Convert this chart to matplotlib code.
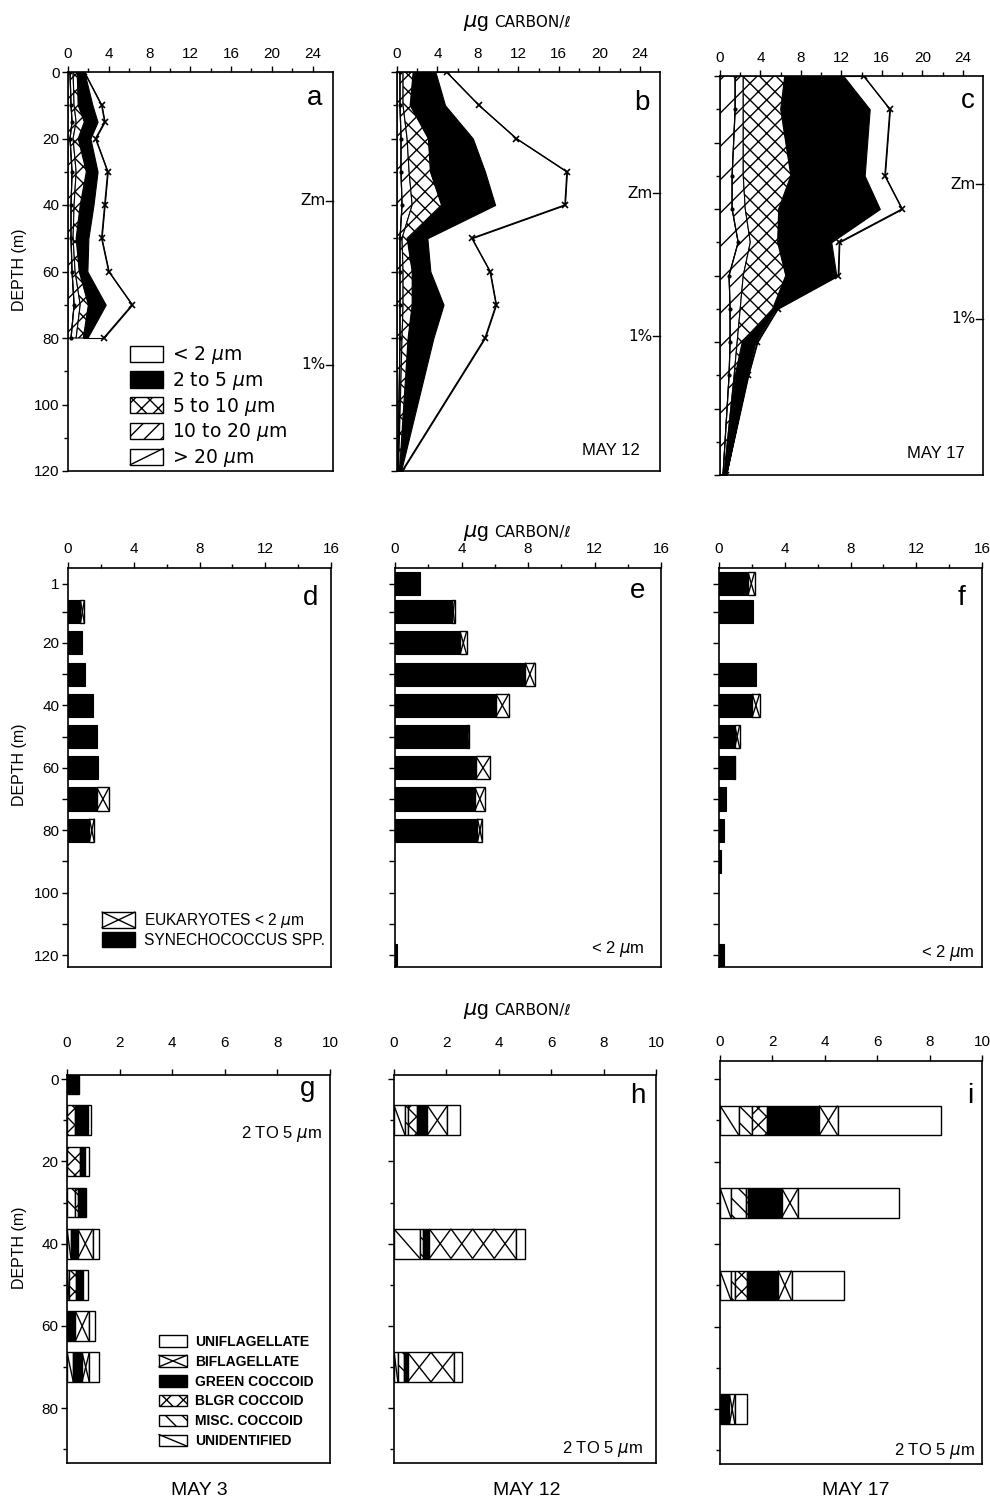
import matplotlib
matplotlib.use('Agg')
import matplotlib.pyplot as plt
from matplotlib.patches import Patch, Rectangle
from matplotlib.lines import Line2D
from matplotlib.legend_handler import HandlerBase
import numpy as np

plt.rcParams['font.family'] = ['Liberation Sans', 'DejaVu Sans']
plt.rcParams['mathtext.fontset'] = 'dejavusans'
plt.rcParams['hatch.linewidth'] = 1.0

# ---------------- data: size-fractionated carbon (top row) ----------------
size_labels = [r'< 2 $\mu$m', r'2 to 5 $\mu$m', r'5 to 10 $\mu$m', r'10 to 20 $\mu$m', r'> 20 $\mu$m']

a_depth = [0, 10, 15, 20, 30, 40, 50, 60, 70, 80]
a_gt20 = [0.2, 0.3, 0.4, 0.2, 0.4, 0.3, 0.3, 0.4, 0.6, 0.3]
a_10_20 = [0.3, 0.3, 0.4, 0.3, 0.4, 0.3, 0.2, 0.3, 0.6, 0.5]
a_5_10 = [0.4, 0.4, 0.8, 0.5, 1.0, 0.6, 0.3, 0.4, 0.8, 0.7]
a_2_5 = [0.7, 1.4, 1.3, 1.2, 1.1, 1.3, 1.2, 0.8, 1.7, 0.4]
a_lt2 = [0.0, 0.9, 0.7, 0.5, 1.0, 1.1, 1.3, 2.1, 2.6, 1.6]

b_depth = [0, 10, 20, 30, 40, 50, 60, 70, 80, 120]
b_gt20 = [0.3, 0.3, 0.4, 0.4, 0.5, 0.3, 0.3, 0.3, 0.3, 0.1]
b_10_20 = [0.3, 0.3, 0.6, 0.8, 1.0, 0.2, 0.3, 0.3, 0.2, 0.05]
b_5_10 = [1.0, 0.7, 2.1, 2.1, 2.9, 0.5, 0.9, 0.9, 0.6, 0.1]
b_2_5 = [2.2, 3.45, 4.4, 5.4, 5.3, 2.0, 1.8, 3.1, 2.5, 0.15]
b_lt2 = [1.1, 3.35, 4.3, 8.1, 6.9, 4.4, 5.9, 5.2, 5.1, 0.1]

c_depth = [0, 10, 30, 40, 50, 60, 70, 80, 90, 120]
c_gt20 = [1.5, 1.5, 1.2, 1.2, 1.8, 0.9, 1.0, 1.0, 0.9, 0.3]
c_10_20 = [0.8, 0.8, 1.1, 1.3, 1.2, 1.4, 1.0, 0.7, 0.5, 0.1]
c_5_10 = [4.1, 3.7, 4.7, 3.3, 2.7, 4.2, 3.2, 0.5, 0.1, 0.1]
c_2_5 = [5.8, 8.8, 7.3, 10.0, 5.3, 5.0, 0.3, 1.3, 1.2, 0.1]
c_lt2 = [2.0, 2.0, 2.0, 2.2, 0.8, 0.2, 0.2, 0.2, 0.1, 0.0]

zm_depth = [38.7, 36.5, 32.5]
one_pct_depth = [88, 79.5, 73]

# ---------------- data: < 2 um fraction (middle row) ----------------
pico_labels = [r'EUKARYOTES < 2 $\mu$m', 'SYNECHOCOCCUS SPP.']
d_depth = [10, 20, 30, 40, 50, 60, 70, 80]
d_syn = [0.75, 0.85, 1.05, 1.55, 1.75, 1.85, 1.75, 1.3]
d_euk = [0.25, 0, 0, 0, 0, 0, 0.75, 0.3]
e_depth = [1, 10, 20, 30, 40, 50, 60, 70, 80, 120]
e_syn = [1.52, 3.44, 3.91, 7.83, 6.07, 4.31, 4.86, 4.80, 4.96, 0.15]
e_euk = [0, 0.14, 0.40, 0.57, 0.77, 0.14, 0.87, 0.60, 0.30, 0]
f_depth = [1, 10, 30, 40, 50, 60, 70, 80, 90, 120]
f_syn = [1.76, 2.06, 2.27, 2.02, 0.95, 0.90, 0.45, 0.30, 0.12, 0.28]
f_euk = [0.41, 0, 0, 0.45, 0.31, 0.05, 0, 0, 0, 0]

# ---------------- data: 2-5 um fraction (bottom row) ----------------
# stacking order left to right: unidentified, misc, blgr, green, biflag, uniflag
taxa_labels = ['UNIFLAGELLATE', 'BIFLAGELLATE', 'GREEN COCCOID', 'BLGR COCCOID', 'MISC. COCCOID', 'UNIDENTIFIED']
g_depth = [0, 10, 20, 30, 40, 50, 60, 70]
g_unid = [0, 0, 0, 0, 0.15, 0.08, 0, 0.24]
g_misc = [0, 0, 0, 0.30, 0, 0, 0, 0]
g_blgr = [0, 0.32, 0.50, 0.10, 0, 0.27, 0, 0]
g_green = [0.47, 0.43, 0.20, 0.32, 0.26, 0.25, 0.32, 0.33]
g_bi = [0, 0.05, 0, 0, 0.57, 0, 0.51, 0.28]
g_uni = [0, 0.12, 0.13, 0, 0.25, 0.20, 0.25, 0.35]

h_depth = [10, 40, 70]
h_unid = [0.42, 0.99, 0.15]
h_misc = [0.13, 0.13, 0.25]
h_blgr = [0.32, 0, 0]
h_green = [0.40, 0.23, 0.12]
h_bi = [0.77, 3.30, 1.78]
h_uni = [0.48, 0.35, 0.28]

i_depth = [10, 30, 50, 80]
i_unid = [0.72, 0.42, 0.42, 0]
i_misc = [0.49, 0.58, 0.15, 0]
i_blgr = [0.59, 0.05, 0.47, 0]
i_green = [1.99, 1.30, 1.18, 0.36]
i_bi = [0.70, 0.64, 0.51, 0.21]
i_uni = [3.96, 3.85, 2.01, 0.45]

# ---------------- figure ----------------
W, H = 990, 1500
fig = plt.figure(figsize=(W / 100, H / 100), dpi=100)
fig.patch.set_facecolor('white')


def rect(x0, y0, x1, y1):
    return [x0 / W, 1 - y1 / H, (x1 - x0) / W, (y1 - y0) / H]


def ftext(x, y, s, **kw):
    fig.text(x / W, 1 - y / H, s, **kw)


def style_axis(ax, xmax, xmajor, xminor, ylim, ymajor, ylabels, yminor=None,
               ylab=True, xpad=3):
    ax.set_xlim(0, xmax)
    ax.set_ylim(*ylim)
    ax.xaxis.tick_top()
    ax.set_xticks(xmajor)
    ax.set_xticklabels([str(v) for v in xmajor])
    if xminor is not None:
        ax.set_xticks(xminor, minor=True)
    ax.set_yticks(ymajor)
    ax.set_yticklabels(ylabels if ylab else [''] * len(ymajor))
    if yminor is not None:
        ax.set_yticks(yminor, minor=True)
    ax.tick_params(axis='both', which='major', direction='out', length=4, width=1,
                   labelsize=11, pad=2, colors='black')
    ax.tick_params(axis='x', which='major', pad=xpad)
    ax.tick_params(axis='both', which='minor', direction='out', length=3, width=1)
    ax.tick_params(axis='x', bottom=False, top=True, which='both')
    for sp in ax.spines.values():
        sp.set_linewidth(1.2)


def cell_marks(ax, x0, w, yc, h, ppu, kind):
    """Draw a single large X (or one diagonal) per roughly-square cell of a bar segment."""
    n = max(1, int(round(w * ppu / 22.0)))
    edges = np.linspace(x0, x0 + w, n + 1)
    top, bot = yc - h / 2, yc + h / 2
    for a, b in zip(edges[:-1], edges[1:]):
        if kind in ('x', '\\'):
            ax.plot([a, b], [top, bot], color='black', lw=1, solid_capstyle='butt')
        if kind == 'x':
            ax.plot([a, b], [bot, top], color='black', lw=1, solid_capstyle='butt')


class HandlerMark(HandlerBase):
    def __init__(self, kind):
        super().__init__()
        self.kind = kind

    def create_artists(self, legend, orig_handle, xdescent, ydescent, width, height,
                       fontsize, trans):
        x0, y0 = -xdescent, -ydescent
        arts = [Rectangle((x0, y0), width, height, facecolor='white', edgecolor='black',
                          lw=1, transform=trans)]
        if self.kind in ('x', '\\'):
            arts.append(Line2D([x0, x0 + width], [y0 + height, y0], color='black', lw=1,
                               transform=trans))
        if self.kind in ('x', '/'):
            arts.append(Line2D([x0, x0 + width], [y0, y0 + height], color='black', lw=1,
                               transform=trans))
        return arts


size_styles = [('white', '/'), ('white', '//'), ('white', 'xx'), ('black', None), ('white', None)]


def size_panel(ax, depth, comps):
    depth = np.asarray(depth, dtype=float)
    cum = np.cumsum(np.vstack(comps), axis=0)
    left = np.zeros_like(depth)
    for (fc, hatch), right in zip(size_styles, cum):
        ax.fill_betweenx(depth, left, right, facecolor=fc, hatch=hatch,
                         edgecolor='black', linewidth=0.8)
        left = right
    ax.plot(cum[0], depth, color='black', lw=0.9, marker='.', ms=4)
    ax.plot(cum[-1], depth, color='black', lw=1.0, marker='x', ms=5, mew=1.2)


top_rects = [(68, 72, 333, 471), (397, 72, 660, 471), (720, 76, 983, 475)]
top_data = [(a_depth, [a_gt20, a_10_20, a_5_10, a_2_5, a_lt2]),
            (b_depth, [b_gt20, b_10_20, b_5_10, b_2_5, b_lt2]),
            (c_depth, [c_gt20, c_10_20, c_5_10, c_2_5, c_lt2])]
top_axes = []
for k, (r, (dep, comps)) in enumerate(zip(top_rects, top_data)):
    ax = fig.add_axes(rect(*r))
    size_panel(ax, dep, comps)
    style_axis(ax, 26, list(range(0, 25, 4)), list(range(2, 25, 4)), (120, 0),
               list(range(0, 121, 20)), [str(v) for v in range(0, 121, 20)],
               list(range(10, 120, 20)), ylab=(k == 0), xpad=4)
    for dd, lab in ((zm_depth[k], 'Zm'), (one_pct_depth[k], '1%')):
        ax.plot([0.975, 1.0], [dd, dd], color='black', lw=1,
                transform=ax.get_yaxis_transform(), clip_on=False)
        ax.text(0.972, dd, lab, transform=ax.get_yaxis_transform(), ha='right',
                va='center', fontsize=11, family=['DejaVu Sans'])
    top_axes.append(ax)

gt20_handle = Patch(facecolor='white', edgecolor='black')
size_handles = [Patch(facecolor='white', edgecolor='black', lw=1),
                Patch(facecolor='black', edgecolor='black', lw=1),
                Patch(facecolor='white', edgecolor='black', hatch='xx', lw=1),
                Patch(facecolor='white', edgecolor='black', hatch='//', lw=1),
                gt20_handle]
top_axes[0].legend(size_handles, size_labels, loc='upper left', bbox_to_anchor=(0.235, 0.318),
                   frameon=False, prop={'family': ['DejaVu Sans'], 'size': 13.5},
                   handlelength=1.75, handleheight=0.95,
                   labelspacing=0.2, handletextpad=0.5, borderpad=0, borderaxespad=0,
                   handler_map={gt20_handle: HandlerMark('/')})

# ---------------- middle row ----------------
mid_rects = [(68, 568, 331, 967), (395, 568, 661, 967), (719, 568, 982, 967)]
mid_data = [(d_depth, d_syn, d_euk), (e_depth, e_syn, e_euk), (f_depth, f_syn, f_euk)]
mid_ticks = [1] + list(range(10, 121, 10))
mid_ticklabels = ['1'] + [str(v) if v % 20 == 0 else '' for v in range(10, 121, 10)]
mid_axes = []
BAR_MID = 7.4
for k, (r, (dep, syn, euk)) in enumerate(zip(mid_rects, mid_data)):
    ax = fig.add_axes(rect(*r))
    dep = np.asarray(dep, float)
    syn = np.asarray(syn, float)
    euk = np.asarray(euk, float)
    ax.barh(dep, syn, height=BAR_MID, color='black', edgecolor='black', lw=0.8)
    m = euk > 0
    ax.barh(dep[m], euk[m], left=syn[m], height=BAR_MID, facecolor='white',
            edgecolor='black', lw=1)
    ppu = (r[2] - r[0]) / 16.0
    for x0, w, yc in zip(syn[m], euk[m], dep[m]):
        cell_marks(ax, x0, w, yc, BAR_MID, ppu, 'x')
    style_axis(ax, 16, [0, 4, 8, 12, 16], [2, 6, 10, 14], (123.8, -4),
               mid_ticks, mid_ticklabels, None, ylab=(k == 0), xpad=5)
    mid_axes.append(ax)

euk_handle = Patch(facecolor='white', edgecolor='black')
pico_handles = [euk_handle, Patch(facecolor='black', edgecolor='black', lw=1)]
mid_axes[0].legend(pico_handles, pico_labels, loc='upper left', bbox_to_anchor=(0.13, 0.14),
                   frameon=False, fontsize=11.2, handlelength=2.1, handleheight=1.15,
                   labelspacing=0.12, handletextpad=0.6, borderpad=0, borderaxespad=0,
                   handler_map={euk_handle: HandlerMark('x')})

# ---------------- bottom row ----------------
taxa_styles = [('white', None), ('white', '\\\\'), ('white', 'xx'), ('black', None),
               ('white', None), ('white', None)]
taxa_marks = ['\\', None, None, None, 'x', None]
bot_rects = [(67, 1075, 330, 1463), (394, 1075, 656, 1463), (720, 1061, 982, 1464)]
bot_ylims = [(93.3, -1), (93.3, -1), (93.3, -4.4)]
bot_pads = [14, 14, 5]
bot_data = [(g_depth, [g_unid, g_misc, g_blgr, g_green, g_bi, g_uni]),
            (h_depth, [h_unid, h_misc, h_blgr, h_green, h_bi, h_uni]),
            (i_depth, [i_unid, i_misc, i_blgr, i_green, i_bi, i_uni])]
BAR_BOT = 7.2
bot_axes = []
for k, (r, (dep, comps)) in enumerate(zip(bot_rects, bot_data)):
    ax = fig.add_axes(rect(*r))
    dep = np.asarray(dep, float)
    left = np.zeros_like(dep)
    ppu = (r[2] - r[0]) / 10.0
    for (fc, hatch), mk, vals in zip(taxa_styles, taxa_marks, comps):
        vals = np.asarray(vals, float)
        m = vals > 0
        ax.barh(dep[m], vals[m], left=left[m], height=BAR_BOT, facecolor=fc,
                edgecolor='black', hatch=hatch, lw=1)
        if mk is not None:
            for x0, w, yc in zip(left[m], vals[m], dep[m]):
                cell_marks(ax, x0, w, yc, BAR_BOT, ppu, mk)
        left = left + vals
    style_axis(ax, 10, [0, 2, 4, 6, 8, 10], None, bot_ylims[k],
               [0, 20, 40, 60, 80], ['0', '20', '40', '60', '80'],
               [10, 30, 50, 70, 90], ylab=(k == 0), xpad=bot_pads[k])
    bot_axes.append(ax)

bi_handle = Patch(facecolor='white', edgecolor='black')
unid_handle = Patch(facecolor='white', edgecolor='black')
taxa_handles = [Patch(facecolor='white', edgecolor='black', lw=1),
                bi_handle,
                Patch(facecolor='black', edgecolor='black', lw=1),
                Patch(facecolor='white', edgecolor='black', hatch='xx', lw=1),
                Patch(facecolor='white', edgecolor='black', hatch='\\\\', lw=1),
                unid_handle]
bot_axes[0].legend(taxa_handles, taxa_labels, loc='upper left', bbox_to_anchor=(0.35, 0.33),
                   frameon=False, prop={'size': 10, 'weight': 'bold'}, handlelength=2.0,
                   handleheight=0.9, labelspacing=0.42, handletextpad=0.6,
                   borderpad=0, borderaxespad=0,
                   handler_map={bi_handle: HandlerMark('x'), unid_handle: HandlerMark('\\')})

# ---------------- text ----------------
for (x0, y0), lab in zip([(322, 105), (650, 110), (975, 108), (318, 605), (645, 598),
                          (965, 605), (315, 1096), (645, 1103), (973, 1103)], 'abcdefghi'):
    ftext(x0, y0, lab, ha='right', va='baseline', fontsize=20)

ftext(640, 455, 'MAY 12', ha='right', va='baseline', fontsize=12)
ftext(965, 458, 'MAY 17', ha='right', va='baseline', fontsize=12)
ftext(645, 953, r'< 2 $\mu$m', ha='right', va='baseline', fontsize=12)
ftext(975, 957, r'< 2 $\mu$m', ha='right', va='baseline', fontsize=12)
ftext(322, 1138, r'2 TO 5 $\mu$m', ha='right', va='baseline', fontsize=12)
ftext(643, 1453, r'2 TO 5 $\mu$m', ha='right', va='baseline', fontsize=12)
ftext(975, 1455, r'2 TO 5 $\mu$m', ha='right', va='baseline', fontsize=12)
for xc, lab in ((199, 'MAY 3'), (527, 'MAY 12'), (856, 'MAY 17')):
    ftext(xc, 1495, lab, ha='center', va='baseline', fontsize=14)

for ytop in (27, 537, 1015):
    ftext(489, ytop, r'$\mu$g', ha='right', va='baseline', fontsize=15)
    ftext(494, ytop, 'CARBON/ℓ', ha='left', va='baseline', fontsize=11,
          family=['DejaVu Sans'])

for yc in (270, 765, 1248):
    ftext(20, yc, 'DEPTH (m)', ha='center', va='center', rotation=90, fontsize=11.5)

fig.savefig('out.png', dpi=100, facecolor='white')
